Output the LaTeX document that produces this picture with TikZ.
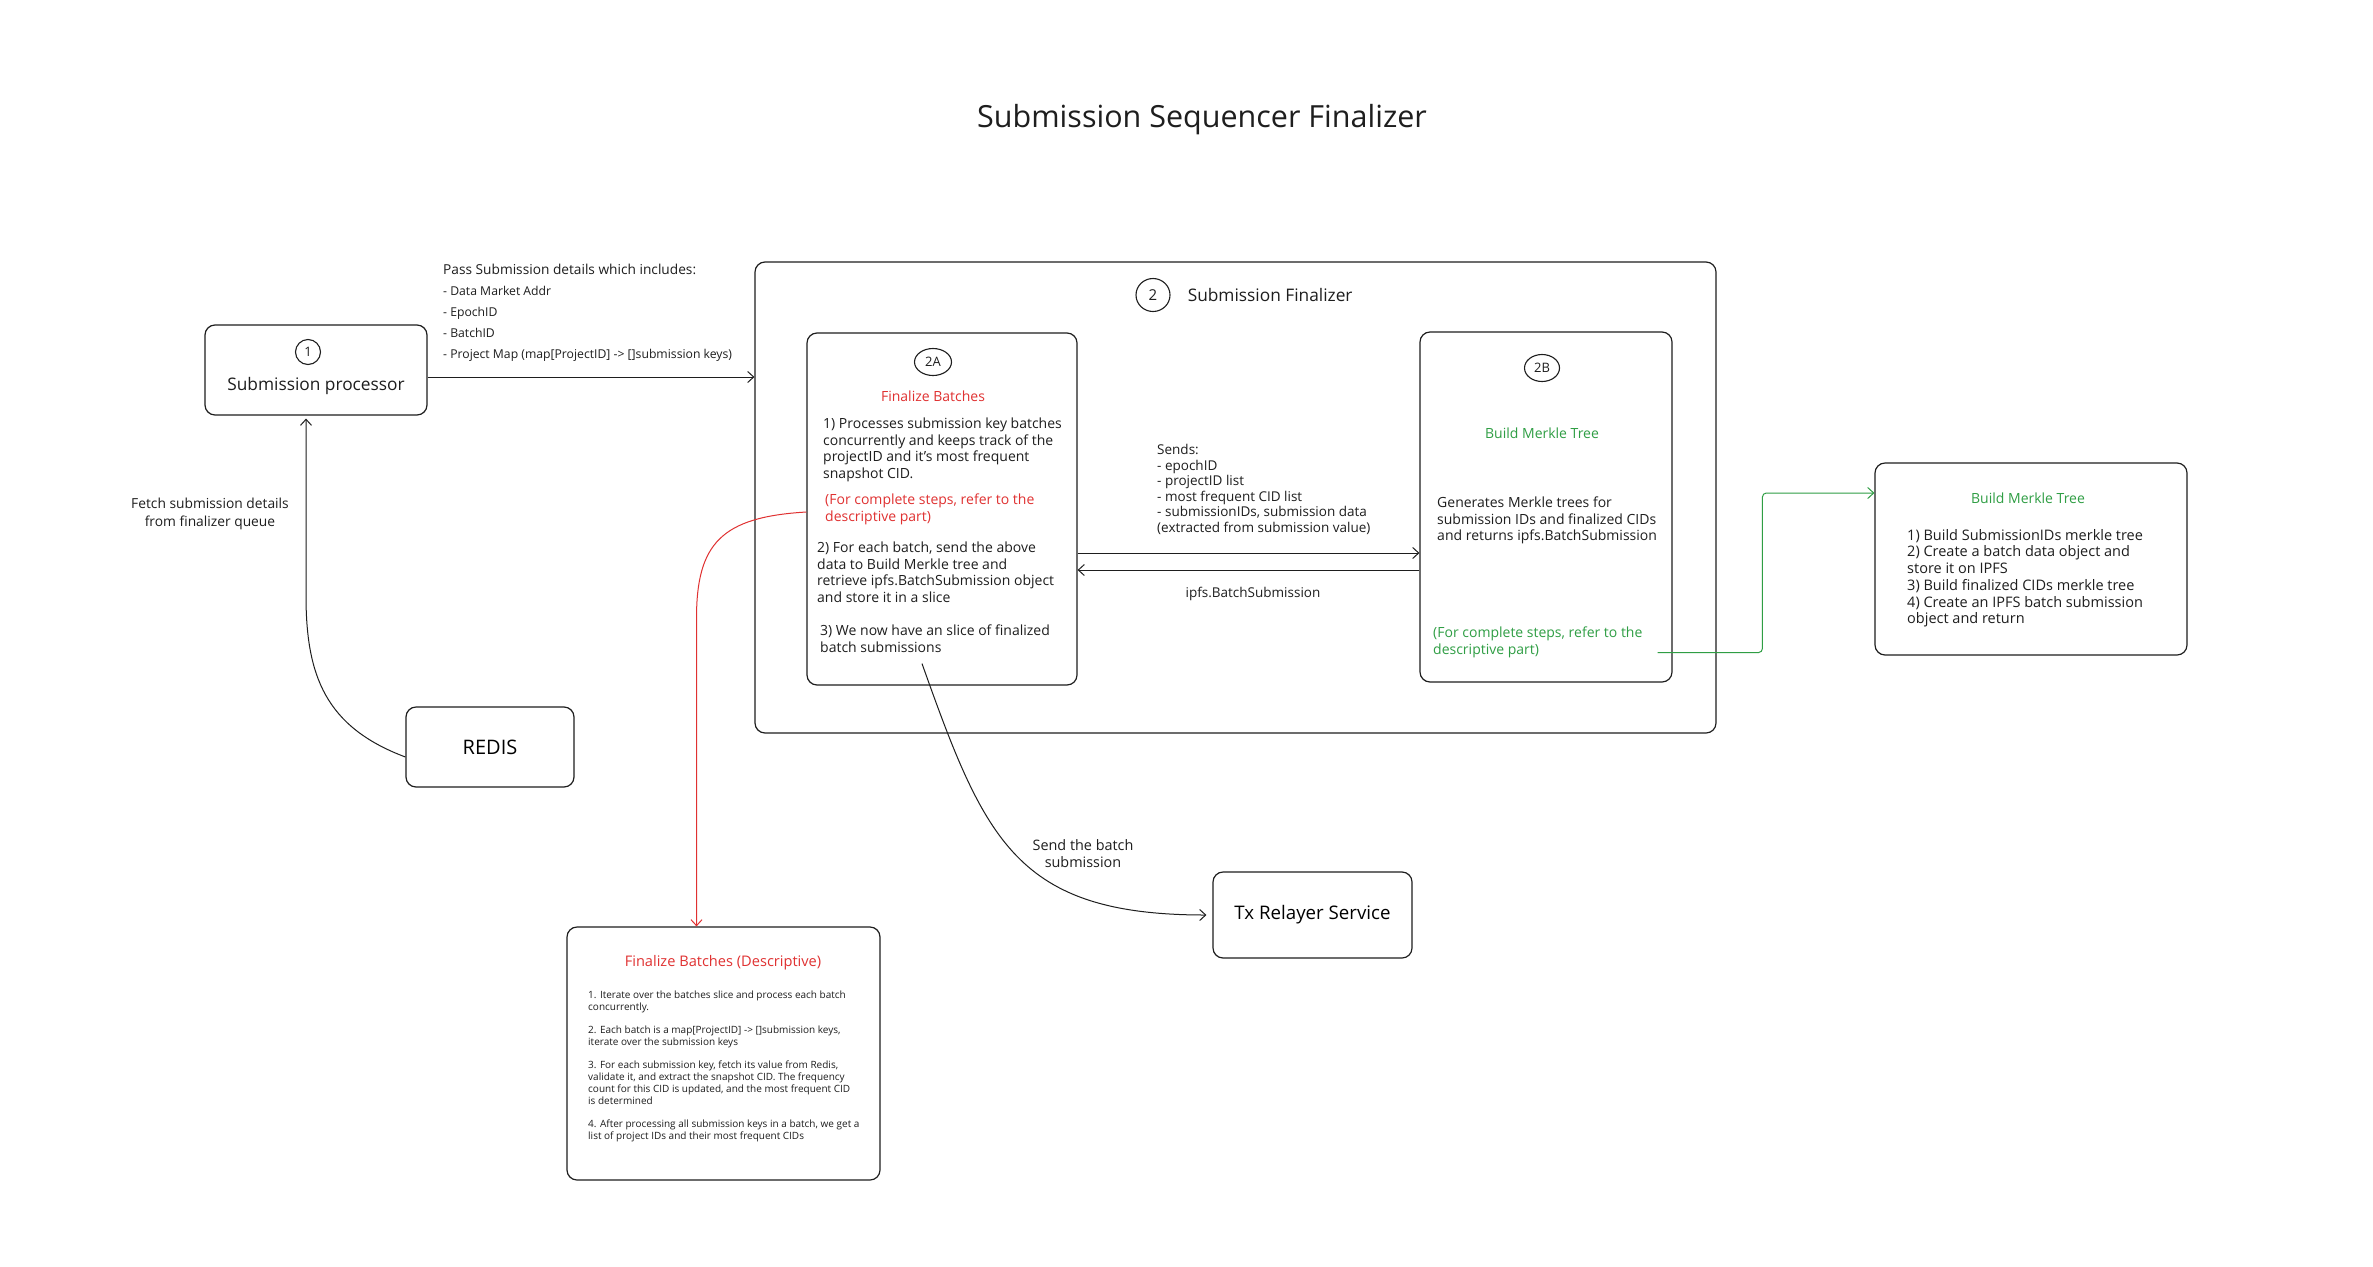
\documentclass[tikz,border=0pt]{standalone}
\usepackage{fontspec}
\setmainfont{Open Sans}
\usetikzlibrary{positioning,calc,arrows.meta,shapes.geometric}
\definecolor{Ink}{HTML}{1E1E1E}
\definecolor{Danger}{HTML}{E03131}
\definecolor{Success}{HTML}{2F9E44}

\begin{document}
\begin{tikzpicture}[
	x=1pt, y=-1pt,
	box/.style={draw=Ink, line width=1.2pt, rounded corners=10pt},
	badge/.style={draw=Ink, line width=1.1pt, ellipse, inner sep=0pt, text=Ink, font=\fontsize{13}{15}\selectfont},
	heading/.style={inner sep=0pt, text=Ink, font=\fontsize{14}{17}\selectfont},
	body/.style={anchor=north west, align=left, inner sep=0pt, text=Ink, font=\fontsize{14}{16.5}\selectfont},
	link/.style={-{Straight Barb[length=6pt,width=11pt]}, line width=1pt, draw=Ink}
	]
			
			\fill[white] (0,0) rectangle (2373,1266);
			\useasboundingbox (0,0) rectangle (2373,1266);
			
			% ---------------------------------------------------------
			% TITLE
			% ---------------------------------------------------------
			
			\node[heading, font=\fontsize{30.5}{36}\selectfont]
			(title) at (1202,120)
			{Submission Sequencer Finalizer};
			
			% ---------------------------------------------------------
			% STEP 1 : SUBMISSION PROCESSOR
			% ---------------------------------------------------------
			
			\node[box, minimum width=222pt, minimum height=90pt]
			(processor) at (316,370) {};
			
			\node[badge, minimum width=25pt, minimum height=25pt]
			(badge1) at (308,352) {1};
			
			\node[heading, font=\fontsize{17.3}{20}\selectfont]
			(processortext) at (316,386)
			{Submission processor};
			
			\node[body, font=\fontsize{12.2}{21}\selectfont]
			(passnote) at (443,264)
			{{\fontsize{13.7}{21}\selectfont Pass Submission details which includes:}\\
				- Data Market Addr\\
				- EpochID\\
				- BatchID\\
				- Project Map (map[ProjectID] -> []submission keys)};
			
			\node[heading, align=center, font=\fontsize{13.8}{18}\selectfont]
			(fetchnote) at (210,514)
			{Fetch submission details\\from finalizer queue};
			
			\node[box, minimum width=168pt, minimum height=80pt, font=\fontsize{20}{24}\selectfont]
			(redis) at (490,747) {REDIS};
			
			% ---------------------------------------------------------
			% STEP 2 : SUBMISSION FINALIZER
			% ---------------------------------------------------------
			
			\node[box, minimum width=961pt, minimum height=471pt]
			(finalizer) at (1235.5,497.5) {};
			
			\node[badge, minimum width=34pt, minimum height=33pt, font=\fontsize{15}{17}\selectfont]
			(badge2) at (1153,295) {2};
			
			\node[heading, anchor=west, font=\fontsize{17.3}{20}\selectfont, right=17pt of badge2]
			(finalizertext)
			{Submission Finalizer};
			
			% ---------------------------------------------------------
			% STEP 2A : FINALIZE BATCHES
			% ---------------------------------------------------------
			
			\node[box, minimum width=270pt, minimum height=352pt]
			(batches) at (942,509) {};
			
			\node[badge, minimum width=37pt, minimum height=27pt]
			(badge2a) at (933,362) {2A};
			
			\node[heading, text=Danger]
			(batchestitle) at (933,396)
			{Finalize Batches};
			
			\node[body]
			(batchesstep1) at (823,418)
			{1) Processes submission key batches\\
				concurrently and keeps track of the\\
				projectID and it's most frequent\\
				snapshot CID.};
			
			\node[body, text=Danger]
			(batchesref) at (825,494)
			{(For complete steps, refer to the\\descriptive part)};
			
			\node[body]
			(batchesstep2) at (817,542)
			{2) For each batch, send the above\\
				data to Build Merkle tree and\\
				retrieve ipfs.BatchSubmission object\\
				and store it in a slice};
			
			\node[body]
			(batchesstep3) at (820,625)
			{3) We now have an slice of finalized\\batch submissions};
			
			% ---------------------------------------------------------
			% STEP 2B : BUILD MERKLE TREE
			% ---------------------------------------------------------
			
			\node[box, minimum width=252pt, minimum height=350pt]
			(merkle) at (1546,507) {};
			
			\node[badge, minimum width=35pt, minimum height=27pt]
			(badge2b) at (1542,368) {2B};
			
			\node[heading, text=Success]
			(merkletitle) at (1542,433)
			{Build Merkle Tree};
			
			\node[body]
			(merklenote) at (1437,497)
			{Generates Merkle trees for\\
				submission IDs and finalized CIDs\\
				and returns ipfs.BatchSubmission};
			
			\node[body, text=Success]
			(merkleref) at (1433,627)
			{(For complete steps, refer to the\\descriptive part)};
			
			\node[body, font=\fontsize{13.5}{15.6}\selectfont]
			(sendsnote) at (1157,444)
			{Sends:\\
				- epochID\\
				- projectID list\\
				- most frequent CID list\\
				- submissionIDs, submission data\\
				(extracted from submission value)};
			
			\node[heading, font=\fontsize{13.5}{16}\selectfont]
			(returnnote) at (1253,594)
			{ipfs.BatchSubmission};
			
			% ---------------------------------------------------------
			% DESCRIPTIVE PARTS
			% ---------------------------------------------------------
			
			\node[box, minimum width=312pt, minimum height=192pt]
			(merkledesc) at (2031,559) {};
			
			\node[heading, text=Success]
			(merkledesctitle) at (2028,498)
			{Build Merkle Tree};
			
			\node[body, font=\fontsize{14.5}{16.7}\selectfont]
			(merkledescsteps) at (1907,529)
			{1) Build SubmissionIDs merkle tree\\
				2) Create a batch data object and\\
				store it on IPFS\\
				3) Build finalized CIDs merkle tree\\
				4) Create an IPFS batch submission\\
				object and return};
			
			\node[box, minimum width=313pt, minimum height=253pt]
			(batchdesc) at (723.5,1053.5) {};
			
			\node[heading, text=Danger, font=\fontsize{14.6}{17}\selectfont]
			(batchdesctitle) at (723,963)
			{Finalize Batches (Descriptive)};
			
			\node[body, font=\fontsize{10}{12}\selectfont]
			(batchdescsteps) at (588,991)
			{1. Iterate over the batches slice and process each batch\\
				concurrently.\\[11pt]
				2. Each batch is a map[ProjectID] -> []submission keys,\\
				iterate over the submission keys\\[11pt]
				3. For each submission key, fetch its value from Redis,\\
				validate it, and extract the snapshot CID. The frequency\\
				count for this CID is updated, and the most frequent CID\\
				is determined\\[11pt]
				4. After processing all submission keys in a batch, we get a\\
				list of project IDs and their most frequent CIDs};
			
			% ---------------------------------------------------------
			% STEP 3 : TX RELAYER
			% ---------------------------------------------------------
			
			\node[box, minimum width=199pt, minimum height=86pt, font=\fontsize{18.7}{22}\selectfont]
			(relayer) at (1312.5,915) {Tx Relayer Service};
			
			\node[heading, align=center, font=\fontsize{14.4}{17}\selectfont]
			(sendnote) at (1083,854)
			{Send the batch\\submission};
			
			% ---------------------------------------------------------
			% ARROWS
			% ---------------------------------------------------------
			
			\coordinate (passstart) at ($(processor.east)+(0,7)$);
			\draw[link]
			(passstart) -- (passstart -| finalizer.west);
			
			\draw[link]
			($(redis.west)+(0,10)$) .. controls +(-80,-30) and +(0,80) .. ($(processor.south)+(-10,180)$)
			-- ($(processor.south)+(-10,3)$);
			
			\draw[link]
			($(batches.east)+(0,44)$) -- ($(merkle.west)+(0,46)$);
			
			\draw[link]
			($(merkle.west)+(0,63)$) -- ($(batches.east)+(0,61)$);
			
			\coordinate (redbend) at ($(batchdesc.north)+(-27,-308)$);
			\draw[link, draw=Danger]
			($(batches.west)+(0,3)$) .. controls +(-85,5) and +(0,-75) .. (redbend)
			-- (redbend |- batchdesc.north);
			
			\coordinate (greenbend) at ($(merkledesc.west)+(-112,-66)$);
			\draw[link, draw=Success, rounded corners=4pt]
			($(merkle.south east)+(-15,-30)$) -| (greenbend) -- (greenbend -| merkledesc.west);
			
			\draw[link]
			($(batches.south)+(-20,-22)$) .. controls +(63,177) and +(-190,0) .. ($(relayer.west)+(-6,0)$);
			
		\end{tikzpicture}
\end{document}
